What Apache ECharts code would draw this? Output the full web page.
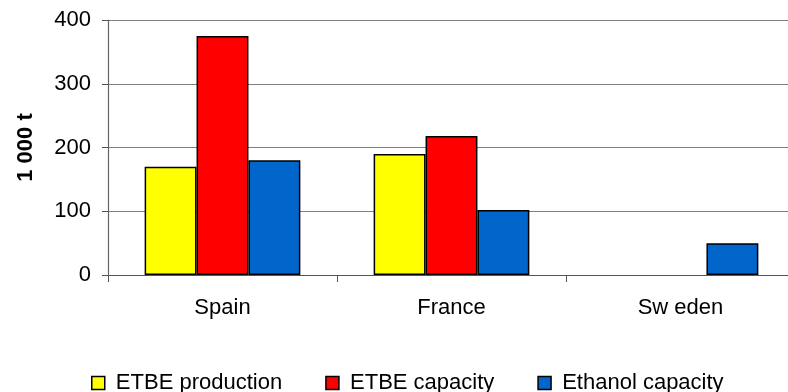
<!DOCTYPE html>
<html>
<head>
<meta charset="utf-8">
<script src="https://cdn.jsdelivr.net/npm/echarts@6/dist/echarts.min.js"></script>
<style>
html,body{margin:0;padding:0;background:#fff;overflow:hidden;}
#chart{width:788px;height:392px;}
</style>
</head>
<body>
<div id="chart"></div>
<script>
const categories = ['Spain', 'France', 'Sw eden'];
const etbeProduction = [170, 190, null];
const etbeCapacity = [375, 218, null];
const ethanolCapacity = [180, 102, 50];
const seriesNames = ['ETBE production', 'ETBE capacity', 'Ethanol capacity'];
const yTicks = [0, 100, 200, 300, 400];
const yAxisTitle = '1 000 t';

const FONT = '"Liberation Sans", Arial, sans-serif';
const chart = echarts.init(document.getElementById('chart'), null, {renderer: 'canvas'});
const colors = ['#FFFF00', '#FF0000', '#0066CC'];
const data = [etbeProduction, etbeCapacity, ethanolCapacity];

chart.setOption({
  animation: false,
  backgroundColor: '#fff',
  textStyle: {fontFamily: FONT, color: '#000'},
  grid: {left: 108, width: 687, top: 20, bottom: 117, containLabel: false, outerBoundsMode: 'none'},
  legend: {
    left: 91, top: 372, padding: 0,
    itemWidth: 13, itemHeight: 13, itemGap: 43,
    icon: 'rect',
    data: seriesNames,
    formatter: n => ' ' + n,
    itemStyle: {borderColor: '#000', borderWidth: 1.5},
    textStyle: {fontFamily: FONT, fontSize: 22, color: '#000'}
  },
  xAxis: {
    type: 'category',
    data: categories,
    axisLine: {lineStyle: {color: '#555', width: 1.2}},
    axisTick: {show: true, length: 7, lineStyle: {color: '#555'}},
    axisLabel: {margin: 22, fontFamily: FONT, fontSize: 22, color: '#000'},
    splitLine: {show: false}
  },
  yAxis: {
    type: 'value',
    min: yTicks[0], max: yTicks[yTicks.length - 1], interval: 100,
    name: yAxisTitle,
    nameLocation: 'middle',
    nameGap: 71,
    nameTextStyle: {fontFamily: FONT, fontSize: 22, fontWeight: 'bold', color: '#000'},
    axisLine: {show: true, lineStyle: {color: '#666', width: 1.2}},
    axisTick: {show: true, length: 6, lineStyle: {color: '#555'}},
    axisLabel: {margin: 17, fontFamily: FONT, fontSize: 22, color: '#000'},
    splitLine: {show: true, lineStyle: {color: '#808080', width: 1.2}}
  },
  series: seriesNames.map((name, i) => ({
    name: name,
    type: 'bar',
    data: data[i],
    barGap: '0%',
    barCategoryGap: '32%',
    itemStyle: {color: colors[i], borderColor: '#000', borderWidth: 1.5}
  }))
});
</script>
</body>
</html>
